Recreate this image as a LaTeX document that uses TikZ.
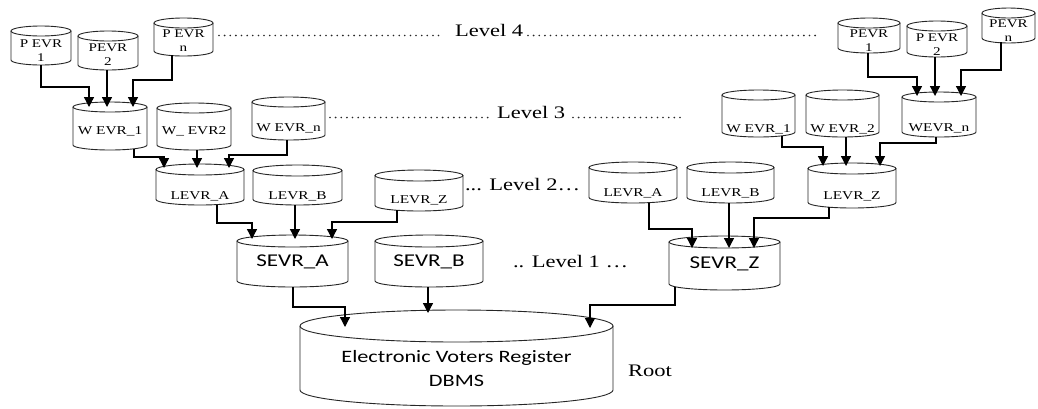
\documentclass[tikz,border=0pt]{standalone}
\usepackage{fontspec}
\usepackage{graphicx}
\setmainfont{Liberation Serif}
\newfontfamily\clb{Carlito}
\usetikzlibrary{arrows.meta}
\newcommand\sx[1]{\scalebox{1.28}[1]{\begin{tabular}{@{}c@{}}#1\end{tabular}}}
\newcommand\fP{\fontsize{11.8}{14}\selectfont}
\newcommand\fW{\fontsize{12}{14}\selectfont}
\newcommand\fS{\clb\fontsize{18}{22}\selectfont}
\newcommand\fR{\clb\fontsize{17.4}{23.5}\selectfont}
\newcommand\fL{\fontsize{17.6}{21}\selectfont}
\tikzset{
  cylbox/.style={draw=none, inner sep=0pt, outer sep=0pt, rectangle},
  cylline/.style={draw=black!85, line width=0.9pt},
  lbl/.style={inner sep=0pt, outer sep=0pt},
  arr/.style={draw=black, line width=1.3pt, -{Triangle[width=10pt,length=10pt]}},
  dots/.style={draw=black!85, line width=1.8pt, line cap=round, dash pattern=on 0pt off 5.63pt},
  lvl/.style={inner sep=0pt, outer sep=0pt, font=\fL, anchor=base west}
}
% name, x1, y1, x2, y2, ry, text y, content
\newcommand\cyl[8]{%
  \node[cylbox, minimum width={(#4-#2)*1pt}, minimum height={(#5-#3)*1pt}] (#1) at ({(#2+#4)/2},{(#3+#5)/2}) {};
  \draw[cylline] ([yshift={-#6*1pt}]#1.north) ellipse [x radius={(#4-#2)/2*1pt}, y radius={#6*1pt}];
  \draw[cylline] ([yshift={-#6*1pt}]#1.north west) -- ([yshift={#6*1pt}]#1.south west)
     arc [start angle=180, end angle=360, x radius={(#4-#2)/2*1pt}, y radius={#6*1pt}]
     -- ([yshift={-#6*1pt}]#1.north east);
  \node[lbl] (#1-t) at ({(#2+#4)/2},#7) {#8};
}
\begin{document}
\begin{tikzpicture}[x=1pt,y=-1pt]
\fill[white] (0,0) rectangle (1038,408);
\useasboundingbox (0,0) rectangle (1038,408);

% Level 4
\cyl{pl1}{11}{26}{71}{65}{5}{52}{\fP\sx{P EVR\\1}}
\cyl{pl2}{78}{31}{138}{70}{5}{56}{\fP\sx{PEVR\\2}}
\cyl{pln}{154}{18}{213}{56}{5}{42}{\fP\sx{P EVR\\n}}
\cyl{pr1}{838}{18}{900}{53}{5}{42}{\fP\sx{PEVR\\1}}
\cyl{pr2}{907}{21}{967}{57}{5}{46}{\fP\sx{P EVR\\2}}
\cyl{prn}{982}{8}{1035}{43}{5}{32}{\fP\sx{PEVR\\n}}
% Level 3
\cyl{wl1}{73}{102}{147}{150}{5}{132}{\fW\sx{W EVR\_1}}
\cyl{wl2}{157}{103}{231}{150}{5}{132}{\fW\sx{W\_ EVR2}}
\cyl{wln}{252}{97}{325}{140}{5}{129}{\fW\sx{W EVR\_n}}
\cyl{wr1}{722}{90}{795}{137}{5}{130}{\fW\sx{W EVR\_1}}
\cyl{wr2}{806}{90}{879}{137}{5}{130}{\fW\sx{W EVR\_2}}
\cyl{wrn}{902}{92}{976}{137}{5}{129}{\fW\sx{WEVR\_n}}
% Level 2
\cyl{lla}{156}{164}{244}{205}{5.5}{197}{\fW\sx{LEVR\_A}}
\cyl{llb}{253}{165}{342}{205}{5.5}{197}{\fW\sx{LEVR\_B}}
\cyl{llz}{375}{170}{463}{211}{5.5}{201}{\fW\sx{LEVR\_Z}}
\cyl{lra}{589}{162}{677}{203}{5.5}{194}{\fW\sx{LEVR\_A}}
\cyl{lrb}{687}{162}{774}{203}{5.5}{194}{\fW\sx{LEVR\_B}}
\cyl{lrz}{808}{163}{896}{208}{5.5}{197}{\fW\sx{LEVR\_Z}}
% Level 1
\cyl{sa}{237}{235}{348}{287}{6}{262}{\fS\sx{SEVR\_A}}
\cyl{sb}{375}{235}{483}{287}{6}{262}{\fS\sx{SEVR\_B}}
\cyl{sz}{669}{236}{780}{290}{6}{264}{\fS\sx{SEVR\_Z}}
% Root
\cyl{root}{300}{310}{613}{406}{16}{370}{\fR\sx{Electronic Voters Register\\DBMS}}
\node[lvl] (roott) at (628,377) {\sx{Root}};

% level labels and leaders
\node[lvl] (lv4) at (455,37) {\sx{Level 4}};
\node[lvl] (lv3) at (497,119) {\sx{Level 3}};
\node[lvl] (lv2) at (465,191) {\sx{... Level 2…}};
\node[lvl] (lv1) at (513,268) {\sx{.. Level 1 …}};
\coordinate (d4a) at (219,35.5);
\coordinate (d4b) at (442,35.5);
\coordinate (d4c) at (528,35.5);
\coordinate (d4d) at (819,35.5);
\coordinate (d3a) at (330,117.5);
\coordinate (d3b) at (490,117.5);
\coordinate (d3c) at (573,117.5);
\coordinate (d3d) at (680,117.5);
\draw[dots] (d4a) -- (d4b);
\draw[dots] (d4c) -- (d4d);
\draw[dots] (d3a) -- (d3b);
\draw[dots] (d3c) -- (d3d);

% connectors level 4 -> 3
\draw[arr] (pl1.south) -- ++(0pt,-22pt) -| ([xshift=-21pt,yshift=-5pt]wl1.north);
\draw[arr] ([xshift=-1pt]pl2.south) -- ++(0pt,-10pt) -| ([xshift=-3pt,yshift=-5pt]wl1.north);
\draw[arr] ([xshift=-11.5pt,yshift=1pt]pln.south) -- ++(0pt,-25pt) -| ([xshift=23pt,yshift=-5pt]wl1.north);
\draw[arr] ([xshift=-1pt]pr1.south) -- ++(0pt,-24pt) -| ([xshift=-22pt,yshift=-4pt]wrn.north);
\draw[arr] ([xshift=-2pt]pr2.south) -- ++(0pt,-10pt) -| ([xshift=-4pt,yshift=-4pt]wrn.north);
\draw[arr] ([xshift=-7.5pt,yshift=1pt]prn.south) -- ++(0pt,-28pt) -| ([xshift=22pt,yshift=-4pt]wrn.north);
% level 3 -> 2
\draw[arr] ([xshift=24pt,yshift=1.5pt]wl1.south) -- ++(0pt,-8.5pt) -| ([xshift=-36pt,yshift=-4pt]lla.north);
\draw[arr] ([xshift=3pt]wl2.south) -- ++(0pt,-8pt) -| ([xshift=-3pt,yshift=-4pt]lla.north);
\draw[arr] ([xshift=-1.5pt]wln.south) -- ++(0pt,-15pt) -| ([xshift=29pt,yshift=-4pt]lla.north);
\draw[arr] ([xshift=23.5pt,yshift=1.5pt]wr1.south) -- ++(0pt,-11.5pt) -| ([xshift=-29pt,yshift=-3pt]lrz.north);
\draw[arr] ([xshift=3.5pt]wr2.south) -- ++(0pt,-8pt) -| ([xshift=-6pt,yshift=-3pt]lrz.north);
\draw[arr] ([xshift=-3pt]wrn.south) -- ++(0pt,-6pt) -| ([xshift=28pt,yshift=-3pt]lrz.north);
% level 2 -> 1
\draw[arr] ([xshift=17pt,yshift=0.5pt]lla.south) -- ++(0pt,-18.5pt) -| ([xshift=-40.5pt,yshift=-4pt]sa.north);
\draw[arr] ([xshift=-2.5pt]llb.south) -- ++(0pt,-10pt) -| ([xshift=2.5pt,yshift=-4pt]sa.north);
\draw[arr] ([xshift=-22pt,yshift=0.7pt]llz.south) -- ++(0pt,-11.7pt) -| ([xshift=39.5pt,yshift=-4pt]sa.north);
\draw[arr] ([xshift=16pt,yshift=0.5pt]lra.south) -- ++(0pt,-26.5pt) -| ([xshift=-32.5pt,yshift=-12pt]sz.north);
\draw[arr] ([xshift=-1.5pt]lrb.south) -- ++(0pt,-10pt) -| ([xshift=4.5pt,yshift=-12pt]sz.north);
\draw[arr] ([xshift=-23pt,yshift=0.8pt]lrz.south) -- ++(0pt,-10.8pt) -| ([xshift=29.5pt,yshift=-12pt]sz.north);
% level 1 -> root
\draw[arr] ([xshift=0.5pt]sa.south) -- ++(0pt,-20pt) -| ([xshift=-111.5pt,yshift=-17pt]root.north);
\draw[arr] ([xshift=-1pt]sb.south) -- ++(0pt,-8pt) -| ([xshift=-28.5pt,yshift=-3pt]root.north);
\draw[arr] ([xshift=-49.5pt,yshift=3.3pt]sz.south) -- ++(0pt,-18.3pt) -| ([xshift=133.5pt,yshift=-18pt]root.north);
\end{tikzpicture}
\end{document}
